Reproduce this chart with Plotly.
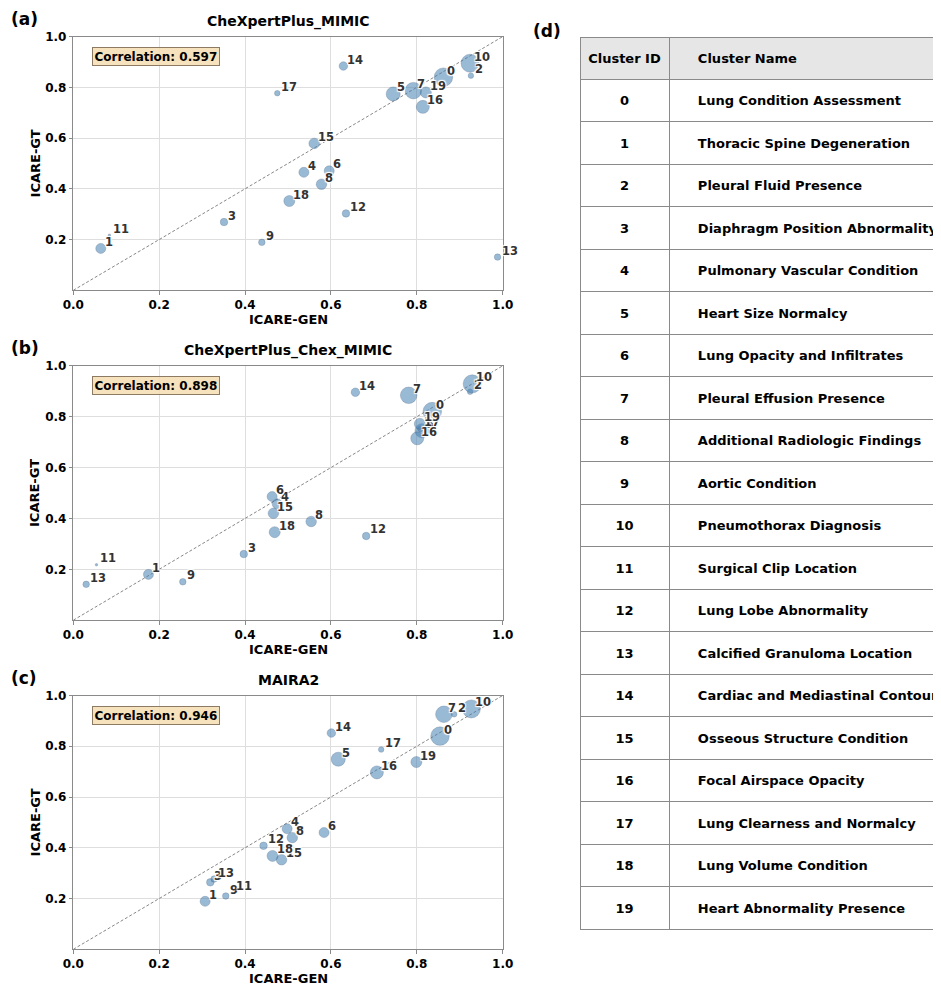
import plotly.graph_objects as go

# The page body has an 8px margin; the figure is made wider than the window so that
# the table (d) runs off the right edge, as in the reference.
PAGE_OFF = 8
FW, FH = 1060, 977
FONT = "DejaVu Sans"

# ---------------- data ----------------
cluster_ids = list(range(20))
cluster_names = [
    "Lung Condition Assessment", "Thoracic Spine Degeneration", "Pleural Fluid Presence",
    "Diaphragm Position Abnormality", "Pulmonary Vascular Condition", "Heart Size Normalcy",
    "Lung Opacity and Infiltrates", "Pleural Effusion Presence", "Additional Radiologic Findings",
    "Aortic Condition", "Pneumothorax Diagnosis", "Surgical Clip Location",
    "Lung Lobe Abnormality", "Calcified Granuloma Location", "Cardiac and Mediastinal Contours",
    "Osseous Structure Condition", "Focal Airspace Opacity", "Lung Clearness and Normalcy",
    "Lung Volume Condition", "Heart Abnormality Presence",
]
# relative cluster size (marker diameter)
cluster_size = [18.5, 10, 5.5, 7.5, 10, 14, 10, 16.5, 10.5, 6.5,
                18, 2.5, 7.5, 6.5, 8.5, 10.5, 13, 5.5, 11, 11]

panel_titles = ["CheXpertPlus_MIMIC", "CheXpertPlus_Chex_MIMIC", "MAIRA2"]
panel_letters = ["(a)", "(b)", "(c)"]
correlations = [0.597, 0.898, 0.946]

gen_a = [0.862, 0.064, 0.926, 0.351, 0.537, 0.745, 0.596, 0.792, 0.578, 0.439,
         0.924, 0.084, 0.635, 0.988, 0.629, 0.561, 0.814, 0.475, 0.503, 0.821]
gt_a = [0.840, 0.165, 0.846, 0.269, 0.465, 0.774, 0.471, 0.787, 0.418, 0.189,
        0.895, 0.217, 0.303, 0.131, 0.884, 0.579, 0.723, 0.777, 0.352, 0.780]

gen_b = [0.836, 0.175, 0.924, 0.397, 0.475, 0.812, 0.463, 0.781, 0.554, 0.255,
         0.929, 0.054, 0.682, 0.030, 0.657, 0.466, 0.801, 0.808, 0.469, 0.807]
gt_b = [0.820, 0.180, 0.898, 0.260, 0.457, 0.745, 0.486, 0.884, 0.388, 0.151,
        0.929, 0.218, 0.331, 0.141, 0.896, 0.420, 0.715, 0.752, 0.346, 0.772]

gen_c = [0.854, 0.307, 0.887, 0.319, 0.498, 0.617, 0.584, 0.863, 0.510, 0.355,
         0.927, 0.370, 0.443, 0.328, 0.601, 0.485, 0.707, 0.717, 0.464, 0.799]
gt_c = [0.840, 0.189, 0.926, 0.264, 0.475, 0.749, 0.460, 0.926, 0.440, 0.210,
        0.947, 0.222, 0.408, 0.277, 0.852, 0.353, 0.697, 0.787, 0.368, 0.738]

panels = [(gen_a, gt_a), (gen_b, gt_b), (gen_c, gt_c)]

x_ticks = [0.0, 0.2, 0.4, 0.6, 0.8, 1.0]
y_ticks = [0.2, 0.4, 0.6, 0.8, 1.0]

# ---------------- layout geometry (page pixels -> paper) ----------------
def px(x):
    return (x - PAGE_OFF) / FW

def py(y):
    return 1 - (y - PAGE_OFF) / FH

x_left, x_right = 73.3, 502.7
y_boxes = [(36.6, 290.3), (365.8, 620.2), (695.5, 949.3)]

fig = go.Figure()
annotations = []
label_shadow = ("1px 1px 1px white, -1px -1px 1px white, "
                "1px -1px 1px white, -1px 1px 1px white")

for i, ((gx, gy), (top, bot)) in enumerate(zip(panels, y_boxes)):
    n = i + 1
    xa = "x" if n == 1 else f"x{n}"
    ya = "y" if n == 1 else f"y{n}"
    axis_common = dict(
        range=[0, 1], showgrid=True, gridcolor="#dedede", gridwidth=1,
        showline=True, mirror=True, linecolor="#8a8a8a", linewidth=1,
        ticks="outside", ticklen=3.5, tickcolor="#8a8a8a", tickwidth=1,
        zeroline=False, tickformat=".1f",
        tickfont=dict(family=FONT, size=12, color="black", weight="bold"),
    )
    fig.update_layout(**{
        f"xaxis{'' if n == 1 else n}": dict(axis_common, domain=[px(x_left), px(x_right)],
                                             anchor=ya, tickvals=x_ticks),
        f"yaxis{'' if n == 1 else n}": dict(axis_common, domain=[py(bot), py(top)],
                                             anchor=xa, tickvals=y_ticks),
    })
    # diagonal reference
    fig.add_trace(go.Scatter(x=[0, 1], y=[0, 1], xaxis=xa, yaxis=ya, mode="lines",
                             line=dict(color="rgba(0,0,0,0.6)", width=0.8, dash="3px,2px"),
                             hoverinfo="skip", showlegend=False))
    fig.add_trace(go.Scatter(
        x=gx, y=gy, xaxis=xa, yaxis=ya, mode="markers", showlegend=False,
        text=[str(c) for c in cluster_ids],
        marker=dict(size=cluster_size, sizemode="diameter",
                    color="rgba(70,130,180,0.78)",
                    line=dict(color="rgba(35,70,110,0.6)", width=0.6)),
    ))
    for cid, xv, yv in zip(cluster_ids, gx, gy):
        annotations.append(dict(
            x=xv, y=yv, xref=xa, yref=ya, text=str(cid), showarrow=False,
            xanchor="left", yanchor="middle", xshift=2, yshift=6.5,
            font=dict(family=FONT, size=11.5, color="#333333", weight="bold",
                      shadow=label_shadow),
        ))
    # correlation box
    annotations.append(dict(
        x=0.043, y=0.96, xref=f"{xa} domain", yref=f"{ya} domain",
        text=f"Correlation: {correlations[i]:.3f}", showarrow=False,
        xanchor="left", yanchor="top", bgcolor="rgba(245,222,179,0.85)",
        bordercolor="#8c7b62", borderwidth=1, borderpad=1.5,
        font=dict(family=FONT, size=12, color="black", weight="bold"),
    ))
    # title
    annotations.append(dict(
        x=px((x_left + x_right) / 2), y=py(top - 15.5), xref="paper", yref="paper",
        text=panel_titles[i], showarrow=False, xanchor="center", yanchor="middle",
        font=dict(family=FONT, size=14, color="black", weight="bold"),
    ))
    # panel letter
    annotations.append(dict(
        x=px(9), y=py(top - 18), xref="paper", yref="paper",
        text=panel_letters[i], showarrow=False, xanchor="left", yanchor="middle",
        font=dict(family=FONT, size=17, color="black", weight="bold"),
    ))
    # axis titles
    annotations.append(dict(
        x=px((x_left + x_right) / 2), y=py(bot + 29.5), xref="paper", yref="paper",
        text="ICARE-GEN", showarrow=False, xanchor="center", yanchor="middle",
        font=dict(family=FONT, size=13, color="black", weight="bold"),
    ))
    annotations.append(dict(
        x=px(35), y=py((top + bot) / 2), xref="paper", yref="paper",
        text="ICARE-GT", showarrow=False, xanchor="center", yanchor="middle",
        textangle=-90,
        font=dict(family=FONT, size=13, color="black", weight="bold"),
    ))

annotations.append(dict(
    x=px(531), y=py(31), xref="paper", yref="paper", text="(d)", showarrow=False,
    xanchor="left", yanchor="middle",
    font=dict(family=FONT, size=17, color="black", weight="bold"),
))

# ---------------- table (d) ----------------
tbl_left, tbl_top = 580, 37
id_w = 89
header_h, row_h = 42, 42.5
tbl_right = PAGE_OFF + FW  # runs past the window edge

# grid: lines and fills
fig.add_trace(go.Table(
    domain=dict(x=[px(tbl_left), 1.0], y=[0.0, py(tbl_top)]),
    columnwidth=[id_w, tbl_right - tbl_left - id_w],
    header=dict(values=["", ""], height=header_h, fill_color="#e6e6e6",
                line=dict(color="#8a8a8a", width=1)),
    cells=dict(values=[[""] * len(cluster_ids), [""] * len(cluster_ids)], height=row_h,
               fill_color="white", line=dict(color="#8a8a8a", width=1)),
))

# text layer
id_text_w = 124
id_center = tbl_left + id_w / 2
txt_left = id_center - id_text_w / 2
name_start = 690
text_shift = 8.5
fig.add_trace(go.Table(
    domain=dict(x=[px(txt_left), 1.0], y=[0.0, py(tbl_top + text_shift)]),
    columnwidth=[id_text_w, name_start - (txt_left + id_text_w), tbl_right - name_start],
    header=dict(values=["Cluster ID", "", "Cluster Name"], height=header_h,
                fill_color="rgba(0,0,0,0)", line=dict(color="rgba(0,0,0,0)", width=0),
                align=["center", "left", "left"],
                font=dict(family=FONT, size=13, color="black", weight="bold")),
    cells=dict(values=[[str(c) for c in cluster_ids], [""] * len(cluster_ids), cluster_names],
               height=row_h, fill_color="rgba(0,0,0,0)",
               line=dict(color="rgba(0,0,0,0)", width=0),
               align=["center", "left", "left"],
               font=dict(family=FONT, size=13, color="black", weight="bold")),
))

fig.update_layout(
    width=FW, height=FH, margin=dict(l=0, r=0, t=0, b=0, autoexpand=False),
    paper_bgcolor="white", plot_bgcolor="white",
    annotations=annotations, showlegend=False,
    font=dict(family=FONT),
)

fig.write_html("out.html")
